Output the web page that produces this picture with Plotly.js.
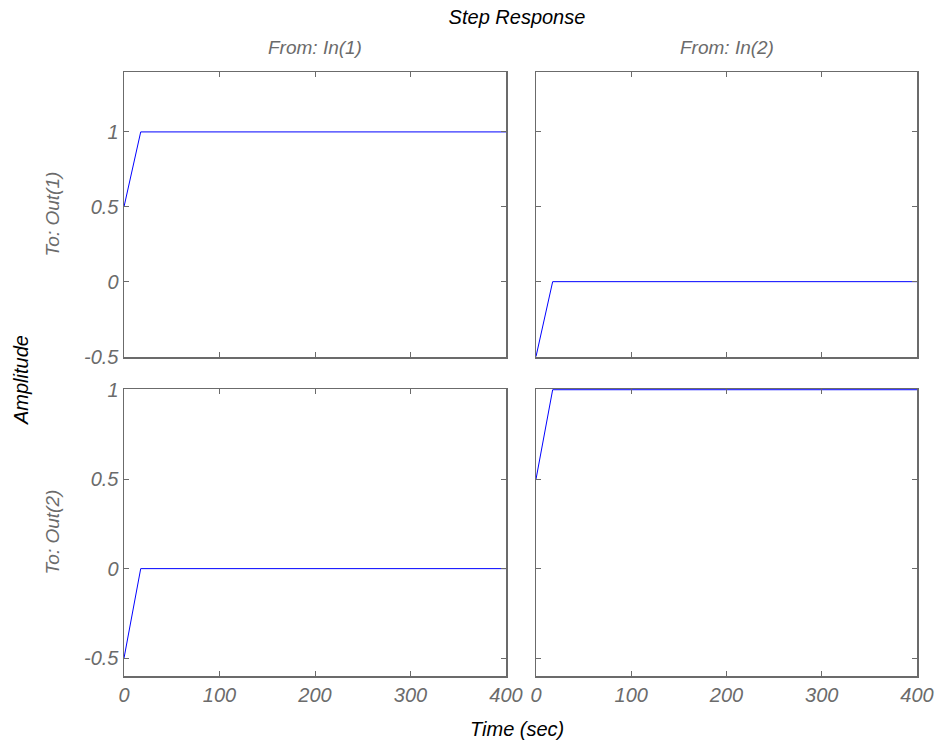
<!DOCTYPE html>
<html>
<head>
<meta charset="utf-8">
<script src="https://cdn.plot.ly/plotly-3.0.1.min.js"></script>
<style>html,body{margin:0;padding:0;background:#fff;}#chart{width:937px;height:743px;}</style>
</head>
<body>
<div id="chart"></div>
<script>
// Data (time in seconds, amplitude)
const time = [0, 17.5, 400];
const out1_in1 = [0.5, 1, 1];
const out1_in2 = [-0.5, 0, 0];
const out2_in1 = [-0.5, 0, 0];
const out2_in2 = [0.5, 1, 1];
const xTicks = [0, 100, 200, 300, 400];
const yTicks = [-0.5, 0, 0.5, 1];
const yTickText = ['-0.5', '0', '0.5', '1'];
const colTitles = ['From: In(1)', 'From: In(2)'];
const rowTitles = ['To: Out(1)', 'To: Out(2)'];

const gray = '#6b6b6b';
const lineStyle = {color: '#0000ff', width: 1};
const traces = [
  {x: time, y: out1_in1, xaxis: 'x', yaxis: 'y'},
  {x: time, y: out1_in2, xaxis: 'x2', yaxis: 'y2'},
  {x: time, y: out2_in1, xaxis: 'x3', yaxis: 'y3'},
  {x: time, y: out2_in2, xaxis: 'x4', yaxis: 'y4'}
].map(t => Object.assign(t, {type: 'scatter', mode: 'lines', line: lineStyle, hoverinfo: 'skip', showlegend: false}));

const W = 937, H = 743;
const xd = [[124 / W, 506 / W], [536 / W, 917 / W]];
const yd = [[1 - 357 / H, 1 - 72 / H], [1 - 676 / H, 1 - 389 / H]];
const tickFont = {family: 'Liberation Sans, Arial, sans-serif', size: 20, color: gray, style: 'italic'};

function xa(dom, anchor, showLabels) {
  return {domain: dom, anchor: anchor, range: [0, 400], tickvals: xTicks, ticktext: xTicks.map(String),
    showticklabels: showLabels, ticks: 'inside', ticklen: 5, tickcolor: gray, tickwidth: 1,
    mirror: 'ticks', showline: true, linecolor: gray, linewidth: 1.5, showgrid: false, zeroline: false,
    tickfont: tickFont, fixedrange: true};
}
function ya(dom, anchor, range, showLabels) {
  return {domain: dom, anchor: anchor, range: range, tickvals: yTicks, ticktext: yTickText,
    showticklabels: showLabels, ticks: 'inside', ticklen: 5, tickcolor: gray, tickwidth: 1,
    mirror: 'ticks', showline: true, linecolor: gray, linewidth: 1.5, showgrid: false, zeroline: false,
    tickfont: tickFont, fixedrange: true};
}
const topRange = [-0.503, 1.4];
const botRange = [-0.6, 1.004];

const labelFont = {family: 'Liberation Sans, Arial, sans-serif', size: 19, color: gray, style: 'italic'};
const blackFont = {family: 'Liberation Sans, Arial, sans-serif', size: 20, color: '#000', style: 'italic'};

const annotations = [
  {text: colTitles[0], x: (xd[0][0] + xd[0][1]) / 2, y: 1 - 47 / H, xref: 'paper', yref: 'paper', showarrow: false, font: labelFont, xanchor: 'center', yanchor: 'middle'},
  {text: colTitles[1], x: (xd[1][0] + xd[1][1]) / 2, y: 1 - 47 / H, xref: 'paper', yref: 'paper', showarrow: false, font: labelFont, xanchor: 'center', yanchor: 'middle'},
  {text: rowTitles[0], x: 52 / W, y: (yd[0][0] + yd[0][1]) / 2, xref: 'paper', yref: 'paper', showarrow: false, font: labelFont, textangle: -90, xanchor: 'center', yanchor: 'middle'},
  {text: rowTitles[1], x: 52 / W, y: (yd[1][0] + yd[1][1]) / 2, xref: 'paper', yref: 'paper', showarrow: false, font: labelFont, textangle: -90, xanchor: 'center', yanchor: 'middle'},
  {text: 'Amplitude', x: 21 / W, y: 1 - 380 / H, xref: 'paper', yref: 'paper', showarrow: false, font: blackFont, textangle: -90, xanchor: 'center', yanchor: 'middle'},
  {text: 'Time (sec)', x: 517 / W, y: 1 - 729 / H, xref: 'paper', yref: 'paper', showarrow: false, font: blackFont, xanchor: 'center', yanchor: 'middle'}
];

const layout = {
  width: W, height: H,
  margin: {l: 0, r: 0, t: 0, b: 0},
  paper_bgcolor: '#fff', plot_bgcolor: '#fff',
  title: {text: 'Step Response', x: 517 / W, xanchor: 'center', y: 1 - 17 / H, yanchor: 'middle', xref: 'paper', yref: 'paper',
    font: {family: 'Liberation Sans, Arial, sans-serif', size: 20, color: '#000', style: 'italic'}},
  xaxis: xa(xd[0], 'y', false),
  yaxis: ya(yd[0], 'x', topRange, true),
  xaxis2: xa(xd[1], 'y2', false),
  yaxis2: ya(yd[0], 'x2', topRange, false),
  xaxis3: xa(xd[0], 'y3', true),
  yaxis3: ya(yd[1], 'x3', botRange, true),
  xaxis4: xa(xd[1], 'y4', true),
  yaxis4: ya(yd[1], 'x4', botRange, false),
  annotations: annotations,
  showlegend: false
};

Plotly.newPlot('chart', traces, layout, {displayModeBar: false, staticPlot: true});
</script>
</body>
</html>
